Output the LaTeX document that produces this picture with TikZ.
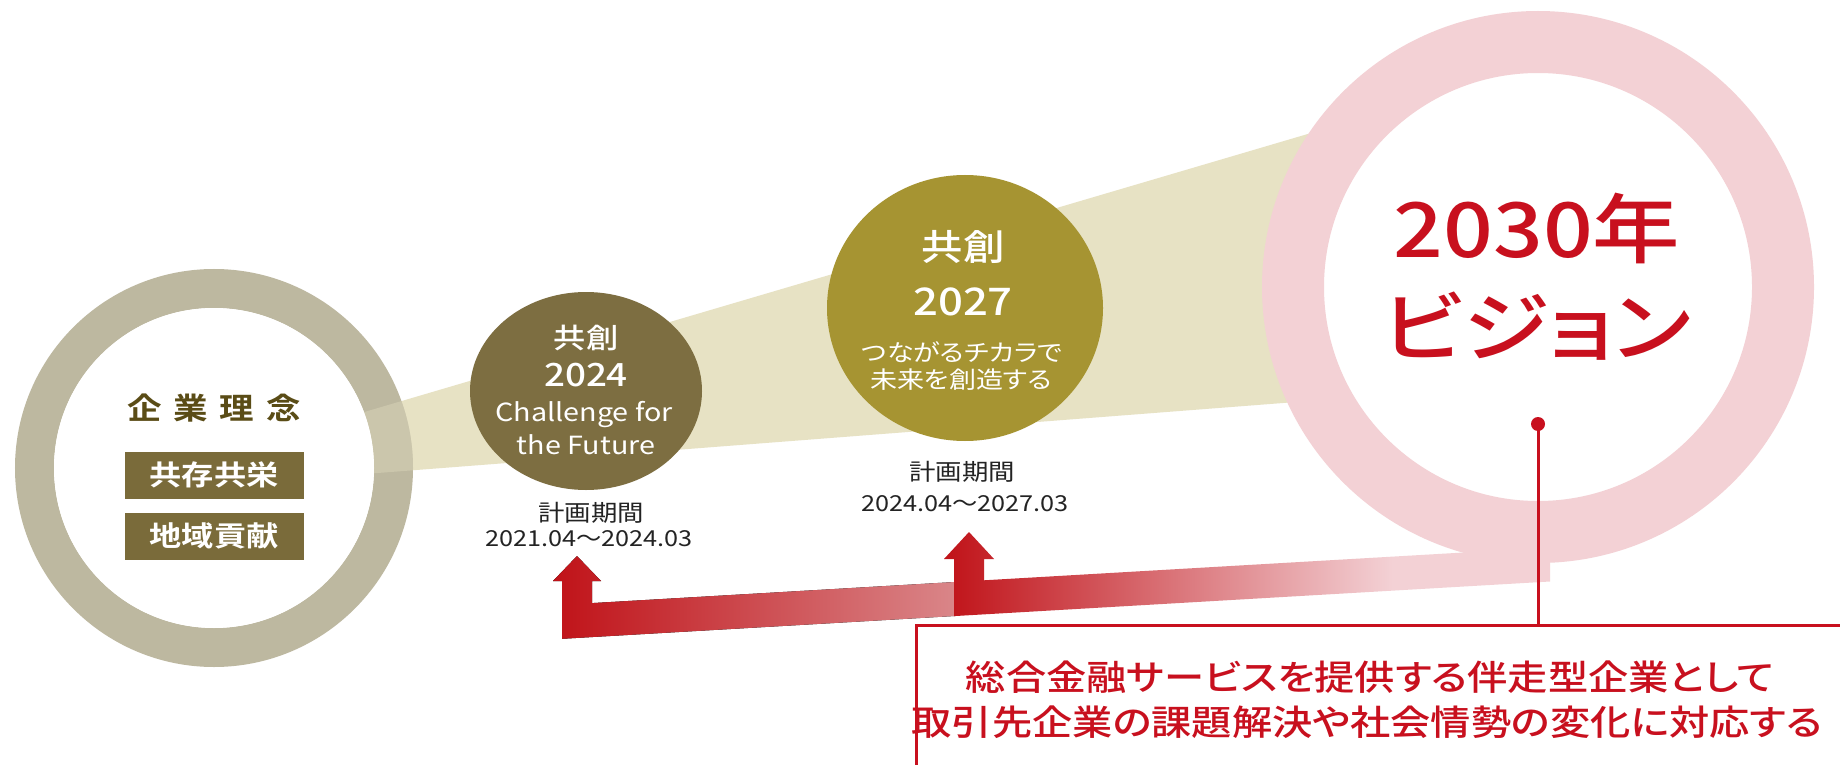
\documentclass[tikz,border=0pt]{standalone}
\usepackage{fontspec}
\setmainfont{Noto Sans CJK JP}[BoldFont={Noto Sans CJK JP Medium},FakeStretch=1.15,RawFeature={+palt}]
\newfontfamily\heavyjp{Noto Sans CJK JP Bold}[FakeStretch=1.15,RawFeature={+palt}]
\usetikzlibrary{shapes.geometric}
\definecolor{ringgray}{RGB}{189,184,160}
\definecolor{wedgecol}{RGB}{231,226,196}
\definecolor{olivebox}{RGB}{122,107,58}
\definecolor{olivetext}{RGB}{90,76,22}
\definecolor{circA}{RGB}{125,110,65}
\definecolor{circB}{RGB}{166,148,50}
\definecolor{pinkring}{RGB}{243,209,213}
\definecolor{visred}{RGB}{200,16,30}
\definecolor{arrowred}{RGB}{192,18,24}
\definecolor{arrowfade}{RGB}{218,135,138}
\definecolor{datetext}{RGB}{35,35,35}
\pgfdeclarehorizontalshading{bandfade}{100bp}{color(0bp)=(arrowred); color(25bp)=(arrowred); color(62bp)=(pinkring); color(100bp)=(pinkring)}
\newcommand{\fsz}[1]{\fontsize{#1}{#1}\selectfont}
\begin{document}
\begin{tikzpicture}[x=1pt,y=-1pt,
  txt/.style={inner sep=0pt, anchor=center},
  wtxt/.style={txt, text=white},
  dtxt/.style={txt, text=datetext, font=\fsz{22}},
  rinenbox/.style={fill=olivebox, minimum width=179pt, minimum height=47pt, inner sep=0pt, text=white, font=\heavyjp\fsz{28}},
  redtxt/.style={txt, text=visred}]
\useasboundingbox (0,0) rectangle (1840,765);
\fill[white] (0,0) rectangle (1840,765);
\clip (0,0) rectangle (1840,765);

% wedge
\coordinate (wA) at (300,431);
\coordinate (wB) at (1340,124.5);
\coordinate (wC) at (1340,398.6);
\coordinate (wD) at (300,479);
\fill[wedgecol] (wA) -- (wB) -- (wC) -- (wD) -- cycle;

% left ring
\node[circle, draw=ringgray, line width=39pt, fill=white, minimum size=359pt, inner sep=0pt] (leftring) at (214,468) {};
\begin{scope}
  \clip (214,468) circle[radius=199];
  \fill[wedgecol, opacity=.35] (wA) -- (wB) -- (wC) -- (wD) -- cycle;
  \fill[white] (214,468) circle[radius=160];
\end{scope}

% vision ring
\node[circle, draw=pinkring, line width=62pt, fill=white, minimum size=490pt, inner sep=0pt] (visionring) at (1538,287) {};

% plan circles
\node[ellipse, fill=circA, minimum width=232pt, minimum height=198pt, inner sep=0pt] (plan24) at (586,391) {};
\node[ellipse, fill=circB, minimum width=276pt, minimum height=266pt, inner sep=0pt] (plan27) at (965,308) {};

% left texts
\node[txt, text=olivetext, font=\heavyjp\fsz{30}] (rinen) at (214,408) {企\hspace{12pt}業\hspace{12pt}理\hspace{12pt}念};
\node[rinenbox] (kyozon) at (214,475) {共存共栄};
\node[rinenbox] (chiiki) at (214,536) {地域貢献};

% 2024 texts
\node[wtxt, font=\bfseries\fsz{28}] (k24) at (586,338) {共創};
\node[wtxt, font=\bfseries\fsz{32}] (y24) at (586,375) {2024};
\node[wtxt, font=\fsz{25}] (ch1) at (584,415) {Challenge for};
\node[wtxt, font=\fsz{25}] (ch2) at (586,445) {the Future};
\node[txt, text=datetext, font=\fsz{23}] (kk24) at (591,513) {計画期間};
\node[dtxt] (d24) at (589,539) {2021.04〜2024.03};

% 2027 texts
\node[wtxt, font=\bfseries\fsz{36}] (k27) at (963,247) {共創};
\node[wtxt, font=\bfseries\fsz{38}] (y27) at (963,302) {2027};
\node[wtxt, font=\fsz{23.5}] (s27a) at (962,352) {つながるチカラで};
\node[wtxt, font=\fsz{23.5}] (s27b) at (961,380) {未来を創造する};
\node[txt, text=datetext, font=\fsz{23}] (kk27) at (962,472) {計画期間};
\node[dtxt] (d27) at (965,504) {2024.04〜2027.03};

% vision texts
\node[redtxt, font=\bfseries\fsz{76}] (v1) at (1537,228) {2030年};
\node[redtxt, font=\bfseries\fsz{76}] (v2) at (1537,326) {ビジョン};

% red arrows
\coordinate (tipA) at (577,556);
\coordinate (tipB) at (969,532);
\fill[left color=arrowred, right color=arrowfade] (tipA) -- (601,581) -- (592,581) -- (592,603.1) -- (960,581.7) -- (960,615.7) -- (562,638.8) -- (562,581) -- (553,581) -- cycle;
\shade[shading=bandfade] (tipB) -- (994,559) -- (984,559) -- (984,580.3) -- (1550,547.5) -- (1550,581.5) -- (954,616.1) -- (954,559) -- (944,559) -- cycle;

% message box
\node[circle, fill=visred, minimum size=14pt, inner sep=0pt] (dot) at (1538,424) {};
\node[draw=visred, line width=3pt, fill=white, minimum width=940pt, minimum height=160pt, anchor=north west, inner sep=0pt] (msgbox) at (915,624) {};
\draw[visred, line width=3pt] (dot.center) -- (dot |- msgbox.north);
\node[redtxt, font=\bfseries\fsz{35}] (msg1) at (1370,677) {総合金融サービスを提供する伴走型企業として};
\node[redtxt, font=\bfseries\fsz{35}] (msg2) at (1367,722) {取引先企業の課題解決や社会情勢の変化に対応する};
\end{tikzpicture}
\end{document}
